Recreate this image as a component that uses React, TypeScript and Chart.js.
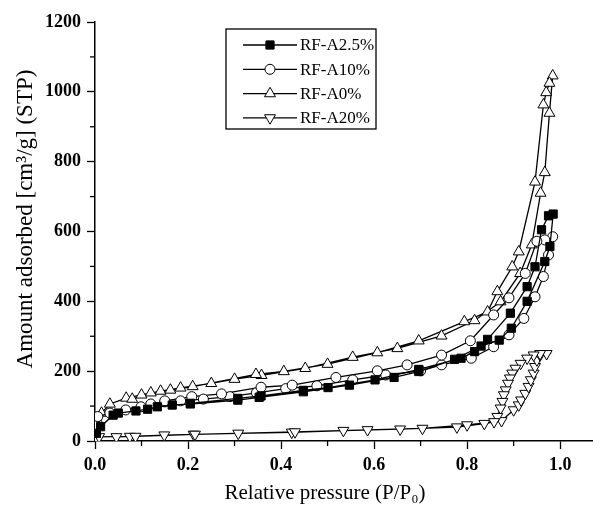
import React, { useEffect, useRef } from "react";
import { Chart, registerables } from "chart.js";
import { drawPoint } from "chart.js/helpers";

Chart.register(...registerables);

// ---- data ----
const seriesNames = ["RF-A2.5%", "RF-A10%", "RF-A0%", "RF-A20%"];

const xTicks = [0, 0.2, 0.4, 0.6, 0.8, 1.0];
const xMinorTicks = [0.1, 0.3, 0.5, 0.7, 0.9];
const yTicks = [0, 200, 400, 600, 800, 1000, 1200];
const yMinorTicks = [100, 300, 500, 700, 900, 1100];

// RF-A2.5% (filled squares): adsorption then desorption
const a25P = [0.003, 0.012, 0.039, 0.05, 0.088, 0.113, 0.134, 0.166, 0.205, 0.307, 0.353, 0.448, 0.547, 0.643, 0.696, 0.773, 0.83, 0.869, 0.895, 0.929, 0.967, 0.978, 0.985,
  0.975, 0.96, 0.946, 0.929, 0.893, 0.844, 0.816, 0.787, 0.696, 0.602, 0.501, 0.448, 0.357, 0.307, 0.205];
const a25V = [22, 41, 74, 80, 86, 91, 98, 103, 106, 117, 125, 141, 160, 182, 199, 234, 272, 289, 323, 400, 514, 557, 650,
  645, 605, 499, 442, 366, 291, 256, 237, 205, 175, 153, 145, 129, 122, 108];

// RF-A10% (open circles)
const a10P = [0.003, 0.006, 0.032, 0.066, 0.099, 0.12, 0.15, 0.184, 0.233, 0.29, 0.347, 0.41, 0.477, 0.554, 0.625, 0.70, 0.745, 0.809, 0.857, 0.89, 0.922, 0.946, 0.964, 0.975, 0.984,
  0.967, 0.95, 0.925, 0.89, 0.857, 0.807, 0.745, 0.671, 0.607, 0.518, 0.424, 0.357, 0.272, 0.208, 0.15];
const a10V = [45, 70, 80, 89, 98, 106, 112, 115, 120, 127, 138, 150, 158, 175, 189, 201, 218, 237, 270, 304, 351, 413, 471, 533, 585,
  576, 572, 480, 410, 361, 287, 246, 218, 201, 182, 160, 154, 135, 127, 115];

// RF-A0% (open triangles)
const a0P = [0.005, 0.014, 0.032, 0.067, 0.10, 0.141, 0.184, 0.25, 0.30, 0.358, 0.452, 0.554, 0.65, 0.745, 0.816, 0.872, 0.914, 0.939, 0.958, 0.967, 0.977, 0.984,
  0.977, 0.97, 0.964, 0.946, 0.911, 0.897, 0.865, 0.844, 0.794, 0.696, 0.607, 0.50, 0.406, 0.346, 0.21, 0.162, 0.12, 0.08];
const a0V = [60, 80, 106, 123, 132, 143, 152, 165, 177, 188, 208, 240, 265, 301, 345, 399, 480, 562, 710, 769, 939, 1046,
  1025, 998, 963, 742, 542, 499, 428, 370, 342, 287, 253, 220, 199, 191, 156, 146, 138, 120];

// RF-A20% (open inverted triangles)
const a20P = [0.003, 0.009, 0.075, 0.149, 0.212, 0.308, 0.423, 0.534, 0.656, 0.778, 0.837, 0.874, 0.90, 0.911, 0.916, 0.925, 0.932, 0.937, 0.943, 0.946, 0.95, 0.957, 0.971,
  0.957, 0.943, 0.929, 0.915, 0.904, 0.897, 0.892, 0.888, 0.883, 0.879, 0.876, 0.872, 0.865, 0.858, 0.80, 0.704, 0.586, 0.43, 0.215, 0.087, 0.046];
const a20V = [5, 12, 13, 17, 19, 22, 25, 30, 34, 40, 50, 58, 89, 103, 117, 136, 156, 175, 194, 213, 232, 246, 250,
  250, 246, 237, 222, 208, 194, 180, 165, 146, 132, 113, 94, 70, 55, 46, 36, 32, 26, 19, 13, 12];

const toXY = (p: number[], v: number[]) => p.map((x, i) => ({ x, y: v[i] }));

const SERIF = "'Liberation Serif', 'Times New Roman', serif";

const minorTicksPlugin = {
  id: "minorTicks",
  afterDraw(chart: any) {
    const { ctx, chartArea, scales } = chart;
    ctx.save();
    ctx.strokeStyle = "#000";
    ctx.lineWidth = 1.3;
    xMinorTicks.forEach((v) => {
      const px = scales.x.getPixelForValue(v);
      ctx.beginPath();
      ctx.moveTo(px, chartArea.bottom);
      ctx.lineTo(px, chartArea.bottom + 5);
      ctx.stroke();
    });
    yMinorTicks.forEach((v) => {
      const py = scales.y.getPixelForValue(v);
      ctx.beginPath();
      ctx.moveTo(chartArea.left - 5, py);
      ctx.lineTo(chartArea.left, py);
      ctx.stroke();
    });
    ctx.restore();
  },
};

const titlesPlugin = {
  id: "axisTitles",
  afterDraw(chart: any) {
    const { ctx } = chart;
    ctx.save();
    ctx.fillStyle = "#000";
    ctx.textAlign = "center";
    ctx.textBaseline = "middle";
    ctx.font = `21px ${SERIF}`;
    ctx.fillText("Relative pressure (P/P\u2080)", 325, 493);
    ctx.translate(26, 219);
    ctx.rotate(-Math.PI / 2);
    ctx.font = `23px ${SERIF}`;
    ctx.fillText("Amount adsorbed [cm\u00B3/g] (STP)", 0, 0);
    ctx.restore();
  },
};

const boxLegendPlugin = {
  id: "boxLegend",
  afterDatasetsDraw(chart: any) {
    const { ctx } = chart;
    const bx = 226, by = 29, bw = 150, bh = 100;
    ctx.save();
    ctx.fillStyle = "#fff";
    ctx.fillRect(bx, by, bw, bh);
    ctx.strokeStyle = "#000";
    ctx.lineWidth = 1.3;
    ctx.strokeRect(bx, by, bw, bh);
    chart.data.datasets.forEach((ds: any, i: number) => {
      const y = by + 16 + i * 24.3;
      ctx.strokeStyle = "#000";
      ctx.lineWidth = 1.3;
      ctx.beginPath();
      ctx.moveTo(bx + 17, y);
      ctx.lineTo(bx + 71, y);
      ctx.stroke();
      ctx.fillStyle = ds.pointBackgroundColor;
      ctx.strokeStyle = "#000";
      ctx.lineWidth = 1;
      drawPoint(ctx, {
        pointStyle: ds.pointStyle,
        rotation: ds.pointRotation || 0,
        radius: ds.pointRadius,
        borderWidth: 1,
      } as any, bx + 44, y);
      ctx.fillStyle = "#000";
      ctx.font = `17px ${SERIF}`;
      ctx.textAlign = "left";
      ctx.textBaseline = "middle";
      ctx.fillText(ds.label, bx + 74, y + 1);
    });
    ctx.restore();
  },
};

export default function App() {
  const ref = useRef<HTMLCanvasElement | null>(null);
  useEffect(() => {
    if (!ref.current) return;
    const common = {
      showLine: true,
      borderColor: "#000",
      borderWidth: 1.3,
      pointBorderColor: "#000",
      pointBorderWidth: 1,
      tension: 0,
    };
    const chart = new Chart(ref.current, {
      type: "scatter",
      data: {
        datasets: [
          { ...common, label: seriesNames[0], data: toXY(a25P, a25V), pointStyle: "rect", pointRadius: 5.8, pointBackgroundColor: "#000" },
          { ...common, label: seriesNames[1], data: toXY(a10P, a10V), pointStyle: "circle", pointRadius: 5, pointBackgroundColor: "#fff" },
          { ...common, label: seriesNames[2], data: toXY(a0P, a0V), pointStyle: "triangle", pointRadius: 6.3, pointBackgroundColor: "#fff" },
          { ...common, label: seriesNames[3], data: toXY(a20P, a20V), pointStyle: "triangle", pointRotation: 180, pointRadius: 6.3, pointBackgroundColor: "#fff" },
        ] as any,
      },
      options: {
        animation: false,
        responsive: false,
        maintainAspectRatio: false,
        layout: { padding: { top: 22, right: 0, left: 0, bottom: 0 } },
        plugins: { legend: { display: false }, tooltip: { enabled: false }, title: { display: false } },
        scales: {
          x: {
            type: "linear",
            min: 0,
            max: 1.07,
            afterFit: (s: any) => { s.height = 64; },
            afterBuildTicks: (s: any) => { s.ticks = xTicks.map((v) => ({ value: v })); },
            ticks: {
              callback: (v: any) => Number(v).toFixed(1),
              color: "#000",
              font: { family: SERIF, size: 18, weight: "bold" },
              padding: 6,
              maxRotation: 0,
            },
            grid: { drawOnChartArea: false, drawTicks: true, tickLength: 8, color: "#000", tickWidth: 1.3 },
            border: { display: true, color: "#000", width: 1.5 },
          },
          y: {
            type: "linear",
            min: 0,
            max: 1200,
            afterFit: (s: any) => { s.width = 95; },
            afterBuildTicks: (s: any) => { s.ticks = yTicks.map((v) => ({ value: v })); },
            ticks: {
              callback: (v: any) => String(v),
              color: "#000",
              font: { family: SERIF, size: 18, weight: "bold" },
              padding: 6,
            },
            grid: { drawOnChartArea: false, drawTicks: true, tickLength: 8, color: "#000", tickWidth: 1.3 },
            border: { display: true, color: "#000", width: 1.5 },
          },
        },
      } as any,
      plugins: [minorTicksPlugin, titlesPlugin, boxLegendPlugin],
    });
    return () => chart.destroy();
  }, []);
  return (
    <div style={{ position: "absolute", left: 0, top: 0, width: 600, height: 505, background: "#fff" }}>
      <canvas ref={ref} width={600} height={505} />
    </div>
  );
}
